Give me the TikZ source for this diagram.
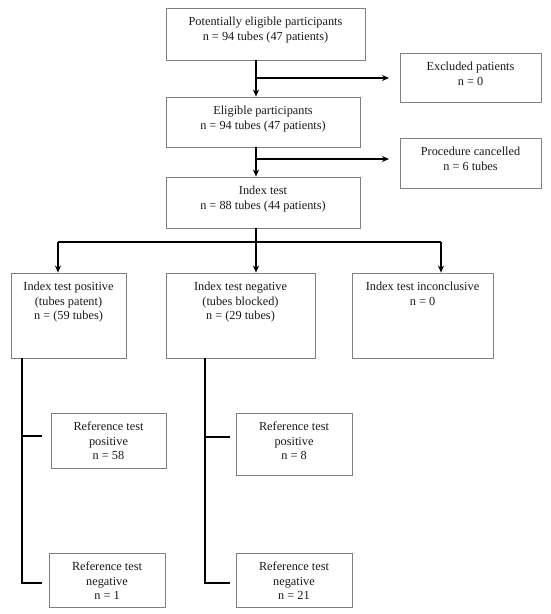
\documentclass[tikz,border=0pt]{standalone}
\usepackage{fontspec}
\setmainfont{Liberation Serif}
\usetikzlibrary{arrows.meta}
\begin{document}
\begin{tikzpicture}[x=1pt,y=-1pt,
  box/.style={draw=black!50, line width=0.8pt, inner sep=0pt, minimum width=#1},
  lbl/.style={anchor=north, align=center, inner sep=0pt, yshift=-9.5pt, text=black!90,
     font=\fontsize{12.3}{14.2}\selectfont},
  conn/.style={line width=1.5pt, black},
  arr/.style={conn, -{Stealth[length=7pt,width=6pt]}}
]
\useasboundingbox (0,0) rectangle (550,614);
% boxes
\node[box=199pt, minimum height=52pt, label={[lbl]north:Potentially eligible participants\\n = 94 tubes (47 patients)}] (b1) at (265.5,34) {};
\node[box=141pt, minimum height=49pt, label={[lbl]north:Excluded patients\\n = 0}] (ex) at (470.5,77.5) {};
\node[box=194pt, minimum height=50pt, label={[lbl]north:Eligible participants\\n = 94 tubes (47 patients)}] (b2) at (263,122) {};
\node[box=141pt, minimum height=50pt, label={[lbl]north:Procedure cancelled\\n = 6 tubes}] (pc) at (470.5,163) {};
\node[box=194pt, minimum height=51pt, label={[lbl]north:Index test\\n = 88 tubes (44 patients)}] (b3) at (263,202.5) {};
\node[box=115pt, minimum height=85pt, label={[lbl]north:Index test positive\\(tubes patent)\\n = (59 tubes)}] (ia) at (68.5,315.5) {};
\node[box=149pt, minimum height=85pt, label={[lbl]north:Index test negative\\(tubes blocked)\\n = (29 tubes)}] (ib) at (240.5,315.5) {};
\node[box=141pt, minimum height=85pt, label={[lbl]north:Index test inconclusive\\n = 0}] (ic) at (422.5,315.5) {};
\node[box=115pt, minimum height=55pt, label={[lbl]north:Reference test\\positive\\n = 58}] (r1) at (108.5,440.5) {};
\node[box=116pt, minimum height=54pt, label={[lbl]north:Reference test\\negative\\n = 1}] (r2) at (107,580) {};
\node[box=116pt, minimum height=62pt, label={[lbl]north:Reference test\\positive\\n = 8}] (r3) at (294,444) {};
\node[box=116pt, minimum height=54pt, label={[lbl]north:Reference test\\negative\\n = 21}] (r4) at (294,580) {};
% junction coordinates
\coordinate (s) at (256,0);
\coordinate (j1) at (256,78);
\coordinate (e1) at (389,78);
\coordinate (j2) at (256,159);
\coordinate (e2) at (389,159);
\coordinate (bar) at (256,242);
\coordinate (barL) at (58,242);
\coordinate (barR) at (441,242);
\coordinate (la) at (22,0);
\coordinate (lb) at (205,0);
\coordinate (t1) at (42,436);
\coordinate (t2) at (42,583);
\coordinate (t3) at (230,437);
\coordinate (t4) at (230,583);
% connectors
\draw[arr] (b1.south -| s) -- (b2.north -| s);
\draw[arr] (j1) -- (e1);
\draw[arr] (b2.south -| s) -- (b3.north -| s);
\draw[arr] (j2) -- (e2);
\draw[conn] (b3.south -| s) -- (bar);
\draw[conn] (barL) -- (barR);
\draw[arr] (barL) -- (ia.north -| barL);
\draw[arr] (bar) -- (ib.north -| bar);
\draw[arr] (barR) -- (ic.north -| barR);
\draw[conn] (ia.south -| la) -- (t2 -| la) -- (t2);
\draw[conn] (t1 -| la) -- (t1);
\draw[conn] (ib.south -| lb) -- (t4 -| lb) -- (t4);
\draw[conn] (t3 -| lb) -- (t3);
\end{tikzpicture}
\end{document}
